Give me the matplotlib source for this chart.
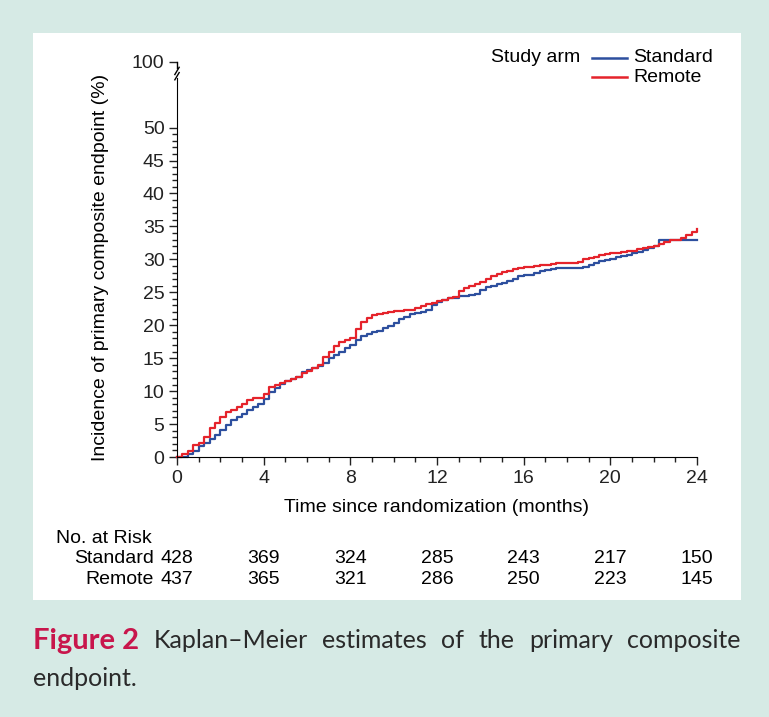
import matplotlib
matplotlib.use("Agg")
import matplotlib.pyplot as plt
from matplotlib.ticker import FixedLocator, MultipleLocator
from matplotlib.patches import Rectangle

# --- data (every quarter month) ---
months = [i * 0.25 for i in range(97)]
standard = [0.0, 0.0, 0.4, 0.9, 1.6, 2.2, 2.8, 3.4, 4.1, 4.9, 5.6, 6.1, 6.5, 7.1, 7.6, 8.0,
            8.8, 9.9, 10.5, 11.1, 11.5, 11.8, 12.2, 12.9, 13.2, 13.5, 13.8, 14.3, 15.0,
            15.5, 16.0, 16.5, 17.0, 17.7, 18.4, 18.7, 19.0, 19.2, 19.6, 19.9, 20.4, 20.9,
            21.3, 21.7, 21.8, 22.0, 22.3, 23.1, 23.6, 23.9, 24.1, 24.2, 24.4, 24.5, 24.6,
            24.7, 25.4, 25.8, 26.0, 26.2, 26.4, 26.7, 27.0, 27.4, 27.6, 27.7, 28.0, 28.3,
            28.4, 28.6, 28.7, 28.7, 28.7, 28.7, 28.7, 28.8, 29.2, 29.4, 29.7, 29.9, 30.1,
            30.3, 30.5, 30.7, 30.9, 31.1, 31.4, 31.7, 32.1, 32.9, 32.9, 32.9, 32.9, 32.9,
            32.9, 32.9, 32.9]
remote = [0.0, 0.4, 0.9, 1.8, 2.2, 3.0, 4.4, 5.1, 6.0, 6.8, 7.2, 7.6, 8.0, 8.6, 8.9, 9.0,
          9.6, 10.6, 10.9, 11.3, 11.5, 11.8, 12.2, 12.7, 13.0, 13.5, 14.0, 15.2, 16.0,
          16.8, 17.5, 17.7, 18.0, 19.5, 20.5, 21.1, 21.5, 21.7, 21.9, 22.0, 22.1, 22.2,
          22.3, 22.3, 22.6, 22.9, 23.2, 23.4, 23.7, 23.9, 24.1, 24.3, 25.2, 25.7, 26.0,
          26.2, 26.6, 27.0, 27.4, 27.8, 28.1, 28.3, 28.5, 28.7, 28.8, 28.9, 29.0, 29.1,
          29.2, 29.3, 29.4, 29.4, 29.4, 29.4, 29.6, 30.0, 30.2, 30.4, 30.6, 30.8, 31.0,
          31.0, 31.1, 31.2, 31.3, 31.5, 31.7, 31.9, 32.1, 32.4, 32.6, 32.9, 33.0, 33.2,
          33.7, 34.2, 34.6]

risk_times = [0, 4, 8, 12, 16, 20, 24]
risk_standard = [428, 369, 324, 285, 243, 217, 150]
risk_remote = [437, 365, 321, 286, 250, 223, 145]

y_ticks = [0, 5, 10, 15, 20, 25, 30, 35, 40, 45, 50]
y_top_pos = 60          # where the "100" tick sits after the axis break
y_top_label = "100"

blue = "#2d4f9e"
red = "#e5232b"
bg = "#d6eae5"
fs = 14

plt.rcParams["font.family"] = ["Liberation Sans", "DejaVu Sans"]

fig = plt.figure(figsize=(7.69, 7.17), dpi=100)
fig.patch.set_facecolor(bg)
# white panel behind the chart
fig.patches.append(Rectangle((33 / 769, 1 - 600 / 717), 708 / 769, 567 / 717,
                             transform=fig.transFigure, facecolor="white",
                             edgecolor="none", zorder=-5))

ax = fig.add_axes([177 / 769, 1 - 457 / 717, 520 / 769, (457 - 61.7) / 717])
ax.set_facecolor("none")

ax.plot(months, standard, drawstyle="steps-post", color=blue, lw=1.6, clip_on=False)
ax.plot(months, remote, drawstyle="steps-post", color=red, lw=1.6, clip_on=False)

ax.set_xlim(0, 24)
ax.set_ylim(0, y_top_pos)
for s in ["top", "right"]:
    ax.spines[s].set_visible(False)
ax.spines["left"].set_bounds(0, 57.5)
ax.spines["bottom"].set_bounds(0, 24)

ax.xaxis.set_major_locator(MultipleLocator(4))
ax.xaxis.set_minor_locator(MultipleLocator(1))
ax.yaxis.set_major_locator(FixedLocator(y_ticks + [y_top_pos]))
ax.set_yticklabels([str(v) for v in y_ticks] + [y_top_label])
ax.yaxis.set_minor_locator(FixedLocator(list(range(0, 51))))
ax.tick_params(which="major", direction="out", length=6, width=1, labelsize=fs,
               pad=3, colors="#222222")
ax.tick_params(which="minor", direction="out", length=3.5, width=1, colors="#222222")

# upper piece of the broken y axis and the break marks
ax.plot([0, 0], [59.0, y_top_pos], color="black", lw=1, clip_on=False)
for yc in (57.8, 58.6):
    ax.plot([-0.1, 0.1], [yc - 0.55, yc + 0.55], color="black", lw=1, clip_on=False)

ax.set_xlabel("Time since randomization (months)", fontsize=fs)
ax.xaxis.label.set_va("center")
ax.xaxis.set_label_coords(0.5, -0.1265)
ax.set_ylabel("Incidence of primary composite endpoint (%)", fontsize=fs)
ax.yaxis.set_label_coords(-0.131, 0.48)

# legend drawn by hand
fig.text(580 / 769, 1 - 58 / 717, "Study arm", ha="right", va="center", fontsize=fs)
fig.add_artist(plt.Line2D([592 / 769, 627 / 769], [1 - 58 / 717] * 2, color=blue, lw=1.8))
fig.add_artist(plt.Line2D([592 / 769, 627 / 769], [1 - 77 / 717] * 2, color=red, lw=1.8))
fig.text(633 / 769, 1 - 58 / 717, "Standard", ha="left", va="center", fontsize=fs)
fig.text(633 / 769, 1 - 77 / 717, "Remote", ha="left", va="center", fontsize=fs)

# number at risk table
tr = ax.get_xaxis_transform()
row_std, row_rem = -0.258, -0.311
ax.text(-0.232, -0.205, "No. at Risk", transform=ax.transAxes, ha="left", va="center",
        fontsize=fs)
ax.text(-0.044, row_std, "Standard", transform=ax.transAxes, ha="right", va="center",
        fontsize=fs)
ax.text(-0.044, row_rem, "Remote", transform=ax.transAxes, ha="right", va="center",
        fontsize=fs)
for t, a, b in zip(risk_times, risk_standard, risk_remote):
    ax.text(t, row_std, str(a), transform=tr, ha="center", va="center", fontsize=fs)
    ax.text(t, row_rem, str(b), transform=tr, ha="center", va="center", fontsize=fs)

# caption, first line justified between the panel edges
cap_font = ["Lato", "DejaVu Sans"]
line1 = ["Kaplan\u2013Meier", "estimates", "of", "the", "primary", "composite"]
left, right = 33, 741
y1 = 1 - 641 / 717
fig.canvas.draw()
renderer = fig.canvas.get_renderer()
head = fig.text(left / 769, y1, "Figure 2", fontsize=21, fontweight="bold",
                color="#c8164c", family=cap_font, va="center")
words = [fig.text(0, y1, w, fontsize=18, color="#2a2a2a", family=cap_font, va="center")
         for w in line1]
widths = [head.get_window_extent(renderer).width] + \
         [w.get_window_extent(renderer).width for w in words]
gap = (right - left - sum(widths)) / len(words)
x = left + widths[0] + gap
for w, wd in zip(words, widths[1:]):
    w.set_x(x / 769)
    x += wd + gap
fig.text(left / 769, 1 - 679 / 717, "endpoint.", fontsize=18, color="#2a2a2a",
         family=cap_font, va="center")

fig.savefig("out.png", dpi=100, facecolor=bg)
